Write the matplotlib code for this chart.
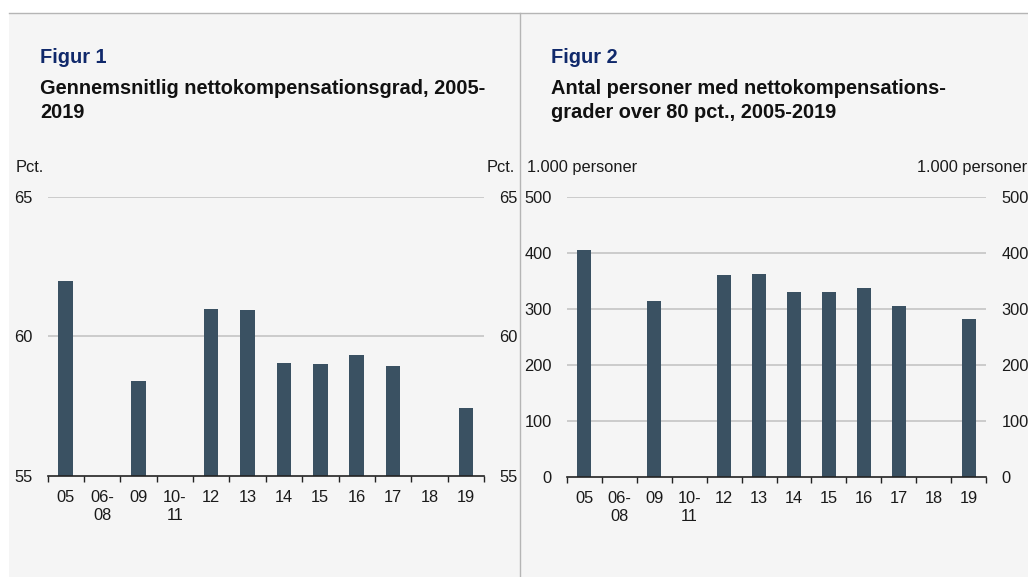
import matplotlib
matplotlib.use('Agg')
import matplotlib.pyplot as plt
import numpy as np
from matplotlib.patches import Rectangle
from matplotlib.lines import Line2D

plt.rcParams['font.family'] = ['Liberation Sans', 'DejaVu Sans']

# Data
categories = ['05', '06-\n08', '09', '10-\n11', '12', '13', '14', '15', '16', '17', '18', '19']
komp_grad = [62.0, np.nan, 58.4, np.nan, 61.0, 60.95, 59.05, 59.0, 59.35, 58.95, np.nan, 57.45]
personer = [405, np.nan, 315, np.nan, 360, 362, 330, 331, 337, 306, np.nan, 282]

W, H = 1028, 577
BAR_COLOR = '#3a5162'
NAVY = '#10296b'
GRID = '#c4c4c4'
BG = '#f5f5f5'
FS = 11.8

fig = plt.figure(figsize=(W / 100, H / 100), dpi=100)
fig.patch.set_facecolor('white')

# panel background, top border, separator
fig.patches.append(Rectangle((9 / W, 0), 1, 1 - 13 / H, transform=fig.transFigure,
                             facecolor=BG, edgecolor='none', zorder=-10))
fig.lines.append(Line2D([9 / W, 1], [1 - 13 / H, 1 - 13 / H], transform=fig.transFigure,
                        color='#b5b5b5', lw=1))
fig.lines.append(Line2D([520 / W, 520 / W], [0, 1 - 13 / H], transform=fig.transFigure,
                        color='#b5b5b5', lw=1))


def px_axes(x0, x1, y0, y1):
    return fig.add_axes([x0 / W, 1 - y1 / H, (x1 - x0) / W, (y1 - y0) / H])


def draw_panel(ax, values, ymin, ymax, step, unit, fig_no, title, tx):
    x = np.arange(len(categories))
    ax.set_facecolor('none')
    ax.bar(x, [v - ymin for v in values], bottom=ymin, width=0.4,
           color=BAR_COLOR, edgecolor='none', zorder=3)
    ax.set_xlim(-0.5, len(categories) - 0.5)
    ax.set_ylim(ymin, ymax)
    yt = np.arange(ymin, ymax + 1, step)
    for t in yt[1:]:
        ax.axhline(t, color=GRID, lw=1.2, zorder=1)
    ax.set_yticks(yt)
    ax.set_yticklabels([str(int(t)) for t in yt])
    ax.tick_params(axis='y', length=0, pad=11, labelsize=FS, labelright=True,
                   right=False, colors='#1a1a1a')
    ax.set_xticks(x)
    ax.set_xticklabels(categories, fontsize=FS, linespacing=1.3, va='top')
    ax.set_xticks(np.arange(len(categories) + 1) - 0.5, minor=True)
    ax.tick_params(axis='x', which='major', length=0, pad=10, colors='#1a1a1a')
    ax.tick_params(axis='x', which='minor', length=4, width=1, direction='out',
                   color='#222222')
    for s in ['top', 'left', 'right']:
        ax.spines[s].set_visible(False)
    ax.spines['bottom'].set_color('#222222')
    ax.spines['bottom'].set_linewidth(1.2)
    ax.spines['bottom'].set_zorder(4)

    # unit labels
    unit_y = 1 - 172 / H
    l, b, w, h = ax.get_position().bounds
    fig.text(l - (32 / W if unit == 'Pct.' else 40 / W), unit_y, unit,
             fontsize=FS, ha='left', va='baseline', color='#1a1a1a')
    fig.text(l + w + (31 / W if unit == 'Pct.' else 41 / W), unit_y, unit,
             fontsize=FS, ha='right', va='baseline', color='#1a1a1a')

    # headings
    fig.text(tx / W, 1 - 63 / H, fig_no, fontsize=14.4, fontweight='bold',
             color=NAVY, va='baseline', ha='left')
    fig.text(tx / W, 1 - 118 / H, title, fontsize=14.4, fontweight='bold',
             color='#111111', va='baseline', ha='left', linespacing=1.36)


ax1 = px_axes(47.5, 484, 197, 476)
draw_panel(ax1, komp_grad, 55, 65, 5, 'Pct.', 'Figur 1',
           'Gennemsnitlig nettokompensationsgrad, 2005-\n2019', 40)

ax2 = px_axes(567, 986, 197, 477)
draw_panel(ax2, personer, 0, 500, 100, '1.000 personer', 'Figur 2',
           'Antal personer med nettokompensations-\ngrader over 80 pct., 2005-2019', 551)

fig.savefig('out.png', dpi=100, facecolor=fig.get_facecolor())
